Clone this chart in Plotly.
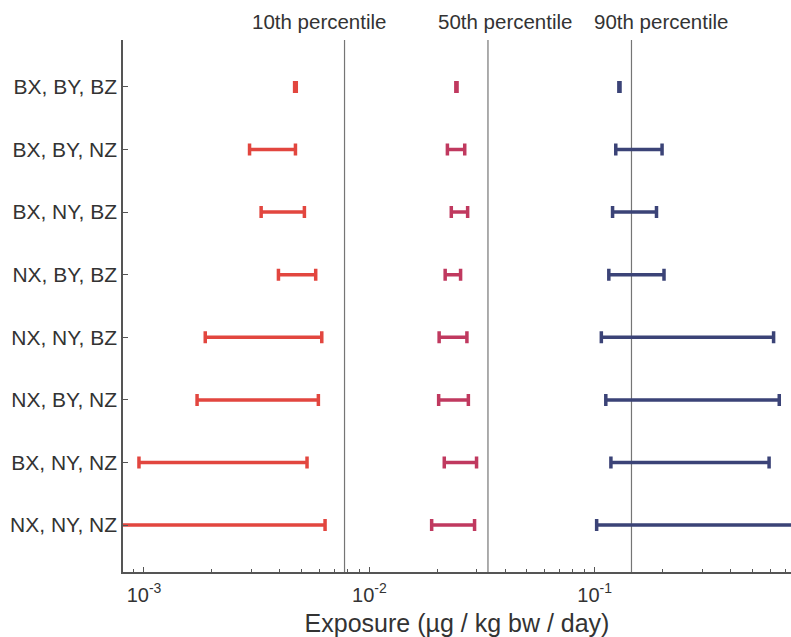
import numpy as np
import plotly.graph_objects as go

# Scenario labels (top to bottom)
scenarios = ["BX, BY, BZ", "BX, BY, NZ", "BX, NY, BZ", "NX, BY, BZ",
             "NX, NY, BZ", "NX, BY, NZ", "BX, NY, NZ", "NX, NY, NZ"]

# Exposure ranges (µg / kg bw / day) per percentile group
p10_low  = [0.00466, 0.00294, 0.00331, 0.00395, 0.00187, 0.00172, 0.00095, 0.00070]
p10_high = [0.00474, 0.00470, 0.00515, 0.00578, 0.00615, 0.00594, 0.00529, 0.00636]
p50_low  = [0.0242, 0.0222, 0.0231, 0.0217, 0.0204, 0.0203, 0.0215, 0.0189]
p50_high = [0.0245, 0.0265, 0.0273, 0.0254, 0.0271, 0.0275, 0.0299, 0.0293]
p90_low  = [0.1280, 0.124, 0.120, 0.1155, 0.107, 0.112, 0.118, 0.102]
p90_high = [0.1295, 0.199, 0.188, 0.203, 0.622, 0.659, 0.594, 0.850]

# Reference percentile values (vertical lines)
ref_names = ["10th percentile", "50th percentile", "90th percentile"]
ref_values = [0.00776, 0.0336, 0.1456]

x_ticks = [1e-3, 1e-2, 1e-1]
x_ticktext = ["10<sup>-3</sup>", "10<sup>-2</sup>", "10<sup>-1</sup>"]
minor_ticks = [m * d for d in (1e-4, 1e-3, 1e-2, 1e-1) for m in range(2, 10)]

colors = ["#e2463f", "#c0395f", "#3b4377"]

rows = np.arange(1, len(scenarios) + 1)
fig = go.Figure()

# vertical reference lines
for v in ref_values:
    fig.add_trace(go.Scatter(x=[v, v], y=[0.25, 8.75], mode="lines",
                             line=dict(color="#757575", width=1.2),
                             hoverinfo="skip", showlegend=False))

for lows, highs, col in [(p10_low, p10_high, colors[0]),
                         (p50_low, p50_high, colors[1]),
                         (p90_low, p90_high, colors[2])]:
    lo = np.array(lows)
    hi = np.array(highs)
    mid = np.sqrt(lo * hi)
    fig.add_trace(go.Scatter(
        x=mid, y=rows, mode="markers",
        marker=dict(size=1, color=col, opacity=0),
        error_x=dict(type="data", symmetric=False, array=hi - mid,
                     arrayminus=mid - lo, color=col, thickness=3.5, width=6),
        hoverinfo="skip", showlegend=False))

font_family = "Liberation Sans, Arial, sans-serif"
fig.update_layout(
    width=791, height=637,
    margin=dict(l=123, r=0, t=40, b=65),
    paper_bgcolor="white", plot_bgcolor="white",
    font=dict(family=font_family, size=20, color="#333333"),
    xaxis=dict(type="log", range=[np.log10(0.000807), np.log10(0.743)],
               tickmode="array", tickvals=x_ticks, ticktext=x_ticktext,
               ticks="inside", ticklen=5, tickcolor="#555",
               minor=dict(tickmode="array", tickvals=minor_ticks,
                          ticks="inside", ticklen=3, tickcolor="#555", showgrid=False),
               showline=True, linecolor="#555", linewidth=1.5,
               showgrid=False, zeroline=False, automargin=False,
               ticklabelstandoff=4,
               title=dict(text="Exposure (µg / kg bw / day)", font=dict(size=25), standoff=14)),
    yaxis=dict(range=[8.75, 0.25], tickmode="array", tickvals=rows, ticktext=scenarios,
               ticks="inside", ticklen=5, tickcolor="#555",
               showline=True, linecolor="#555", linewidth=1.5,
               showgrid=False, zeroline=False, ticklabelstandoff=0,
               automargin=False, tickfont=dict(size=21)),
)

label_pos = [0.293, 0.572, 0.805]
for name, px in zip(ref_names, label_pos):
    fig.add_annotation(text=name, xref="paper", yref="paper", x=px, y=1.034,
                       xanchor="center", yanchor="middle", showarrow=False,
                       font=dict(size=20.5, color="#333333"))

fig.write_html("out.html", config={"displayModeBar": False},
               post_script="document.body.style.margin='0';document.body.style.overflow='hidden';")
